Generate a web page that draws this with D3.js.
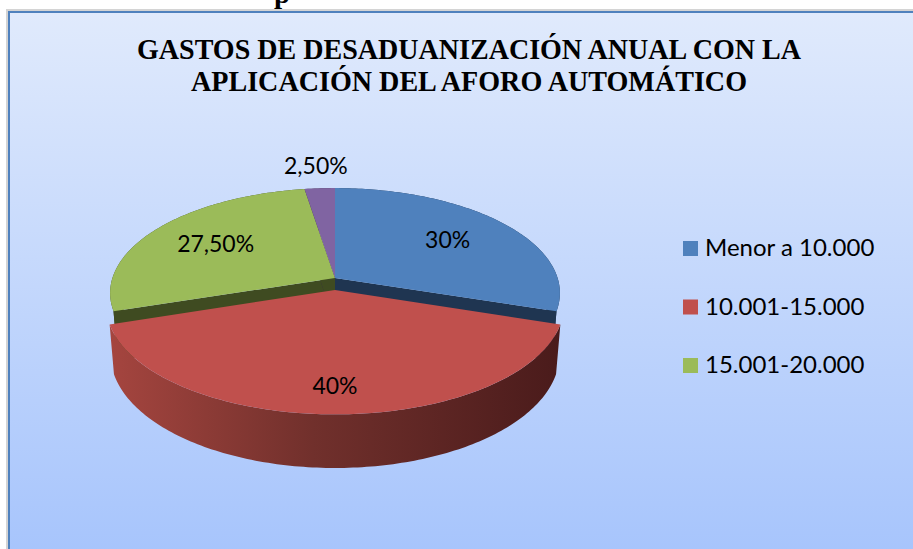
<html>
<head>
  <style>
    body { margin: 0; background: #fff; }
  </style>
</head>
<body>
<script src="https://d3js.org/d3.v7.min.js"></script>
<script>
  // chart data
  var categories = ["Menor a 10.000", "10.001-15.000", "15.001-20.000", ""];
  var values = [30, 40, 27.5, 2.5];
  var exploded = [false, true, false, false];
  var colors = ["#4f81bd", "#c0504d", "#9bbb59", "#8064a2"];
  var sideColors = ["#1f3551", "#5a2220", "#3f4b21", "#3b2d4c"];
  var titleLines = ["GASTOS DE DESADUANIZACIÓN ANUAL CON LA", "APLICACIÓN DEL AFORO AUTOMÁTICO"];

  var width = 913, height = 549;

  var svg = d3.select("body").append("svg")
      .attr("width", width)
      .attr("height", height);

  var defs = svg.append("defs");

  // background gradient of the chart area
  var bg = defs.append("linearGradient").attr("id", "bg")
      .attr("x1", 0).attr("y1", 0).attr("x2", 0).attr("y2", 1);
  bg.append("stop").attr("offset", 0).attr("stop-color", "#e0eafc");
  bg.append("stop").attr("offset", 1).attr("stop-color", "#a6c4fc");

  // shading of the front side of the pulled out slice
  var side = defs.append("linearGradient").attr("id", "redside")
      .attr("gradientUnits", "userSpaceOnUse")
      .attr("x1", 110).attr("y1", 0).attr("x2", 560).attr("y2", 0);
  side.append("stop").attr("offset", 0).attr("stop-color", "#a5453f");
  side.append("stop").attr("offset", 0.45).attr("stop-color", "#71302c");
  side.append("stop").attr("offset", 1).attr("stop-color", "#4a1b1b");

  // piece of a caption cut off above the chart
  svg.append("text")
      .attr("x", 274).attr("y", 3)
      .attr("font-family", "Liberation Serif")
      .attr("font-weight", "bold")
      .attr("font-size", 29)
      .text("p");

  // frame
  svg.append("rect")
      .attr("x", 7).attr("y", 10)
      .attr("width", width).attr("height", height)
      .attr("fill", "none")
      .attr("stroke", "#d4d4d4")
      .attr("stroke-width", 2);
  svg.append("rect")
      .attr("x", 9).attr("y", 12)
      .attr("width", width).attr("height", height)
      .attr("fill", "url(#bg)")
      .attr("stroke", "#4f81bd")
      .attr("stroke-width", 2);

  // title
  var titleWidths = [664, 556];
  svg.selectAll(".title")
      .data(titleLines)
      .enter().append("text")
      .attr("class", "title")
      .attr("x", 469)
      .attr("y", function(d, i) { return 59 + i * 32; })
      .attr("text-anchor", "middle")
      .attr("font-family", "Liberation Serif")
      .attr("font-weight", "bold")
      .attr("font-size", 30)
      .attr("textLength", function(d, i) { return titleWidths[i]; })
      .attr("lengthAdjust", "spacingAndGlyphs")
      .text(function(d) { return d; });

  // 3d projection of the pie
  var cx = 335, cy = 278;
  var F = 1380, D = 6.2;
  var tilt = 27.5 * Math.PI / 180;
  var sn = Math.sin(tilt), cs = Math.cos(tilt);
  var depth = 0.246;
  var pull = 0.115;

  function proj(x, yUp, z) {
    var sy = z * sn - yUp * cs;
    var d = D - z * cs - yUp * sn;
    return [cx + F * x / d, cy + F * sy / d];
  }

  function rim(a, r, yUp, off) {
    return proj(off[0] + r * Math.sin(a), yUp, off[1] - r * Math.cos(a));
  }

  function arcPoints(a0, a1, yUp, off) {
    var n = Math.max(2, Math.ceil((a1 - a0) / (Math.PI / 180)));
    var pts = [];
    for (var i = 0; i <= n; i++) {
      pts.push(rim(a0 + (a1 - a0) * i / n, 1, yUp, off));
    }
    return pts;
  }

  var line = d3.line();

  var pie = d3.pie().sort(null).startAngle(0).endAngle(2 * Math.PI);
  var arcs = pie(values).map(function(d, i) {
    var mid = (d.startAngle + d.endAngle) / 2;
    var e = exploded[i] ? pull : 0;
    d.off = [e * Math.sin(mid), -e * Math.cos(mid)];
    d.mid = mid;
    d.i = i;
    return d;
  });

  function topPath(d) {
    var pts = [proj(d.off[0], 0, d.off[1])].concat(arcPoints(d.startAngle, d.endAngle, 0, d.off));
    return line(pts) + "Z";
  }

  function wallPath(d) {
    var top = arcPoints(d.startAngle, d.endAngle, 0, d.off);
    var bottom = arcPoints(d.startAngle, d.endAngle, -depth, d.off).reverse();
    return line(top.concat(bottom)) + "Z";
  }

  function facePath(d, a) {
    var pts = [
      proj(d.off[0], 0, d.off[1]),
      rim(a, 1, 0, d.off),
      rim(a, 1, -depth, d.off),
      proj(d.off[0], -depth, d.off[1])
    ];
    return line(pts) + "Z";
  }

  var still = arcs.filter(function(d) { return !exploded[d.i]; });
  var moved = arcs.filter(function(d) { return exploded[d.i]; });

  var g = svg.append("g");

  // slices that stay in place: walls, cut faces, then tops
  g.selectAll(".wall").data(still).enter().append("path")
      .attr("d", wallPath)
      .attr("fill", function(d) { return sideColors[d.i]; });
  g.selectAll(".face0").data(still).enter().append("path")
      .attr("d", function(d) { return facePath(d, d.startAngle); })
      .attr("fill", function(d) { return sideColors[d.i]; });
  g.selectAll(".face1").data(still).enter().append("path")
      .attr("d", function(d) { return facePath(d, d.endAngle); })
      .attr("fill", function(d) { return sideColors[d.i]; });
  g.selectAll(".top").data(still).enter().append("path")
      .attr("d", topPath)
      .attr("fill", function(d) { return colors[d.i]; });

  // pulled out slice in front
  g.selectAll(".mwall").data(moved).enter().append("path")
      .attr("d", wallPath)
      .attr("fill", "url(#redside)");
  g.selectAll(".mtop").data(moved).enter().append("path")
      .attr("d", topPath)
      .attr("fill", function(d) { return colors[d.i]; });

  // data labels
  var locale = d3.formatLocale({ decimal: ",", thousands: ".", grouping: [3], currency: ["", ""] });
  function pct(v) {
    return (v % 1 === 0 ? locale.format(".0f")(v) : locale.format(".2f")(v)) + "%";
  }

  g.selectAll(".lbl").data(arcs).enter().append("text")
      .attr("transform", function(d) {
        // small slices get the label outside, the pulled one sits lower on its face
        var r = d.value < 5 ? 1.3 : (exploded[d.i] ? 0.8 : 0.66);
        var p = rim(d.mid, r, 0, d.off);
        return "translate(" + p[0] + "," + (p[1] + 8) + ")";
      })
      .attr("text-anchor", "middle")
      .attr("font-family", "Lato")
      .attr("font-size", 23)
      .attr("fill", "#000")
      .text(function(d) { return pct(d.value); });

  // legend
  var legendData = categories.map(function(c, i) { return { name: c, i: i }; })
      .filter(function(d) { return d.name !== ""; });

  var legend = svg.selectAll(".legend").data(legendData).enter().append("g")
      .attr("transform", function(d, k) { return "translate(683," + (241 + k * 58.5) + ")"; });
  legend.append("rect")
      .attr("width", 15).attr("height", 15)
      .attr("fill", function(d) { return colors[d.i]; });
  legend.append("text")
      .attr("x", 22).attr("y", 15)
      .attr("font-family", "Lato")
      .attr("font-size", 24)
      .attr("fill", "#000")
      .text(function(d) { return d.name; });
</script>
</body>
</html>
